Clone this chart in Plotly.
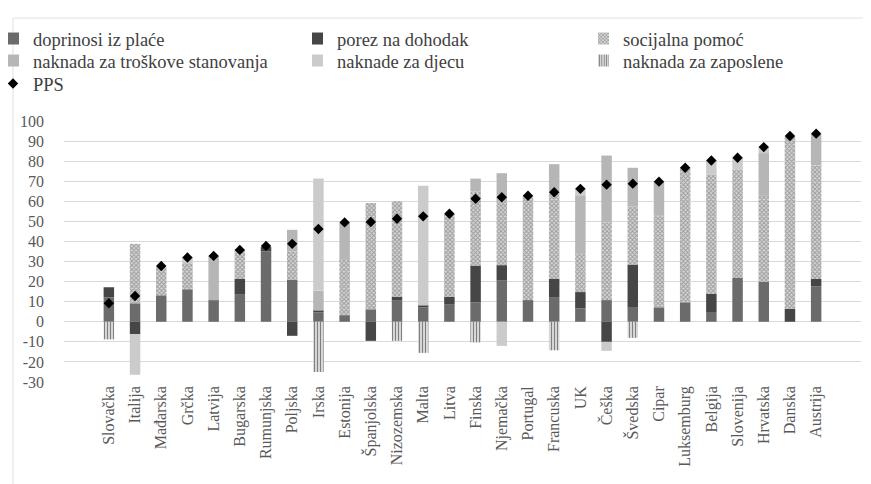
import plotly.graph_objects as go

countries = ["Slovačka", "Italija", "Mađarska", "Grčka", "Latvija", "Bugarska", "Rumunjska",
             "Poljska", "Irska", "Estonija", "Španjolska", "Nizozemska", "Malta", "Litva",
             "Finska", "Njemačka", "Portugal", "Francuska", "UK", "Češka", "Švedska", "Cipar",
             "Luksemburg", "Belgija", "Slovenija", "Hrvatska", "Danska", "Austrija"]

doprinosi = [12.2, 9.2, 13.2, 16.2, 10.8, 13.8, 35.0, 21.0, 4.7, 3.3, 6.2, 10.5, 7.2, 8.8,
             9.7, 20.5, 10.8, 12.3, 6.7, 10.8, 7.0, 7.2, 9.7, 4.5, 21.8, 19.8, 0.0, 17.7]
porez = [5.0, -6.2, 0, 0, 0, 7.7, 2.2, -7.0, 1.0, 0, -9.5, 2.0, 1.0, 3.7,
         18.3, 7.7, 0, 9.2, 8.1, -10.0, 21.5, 0, 0, 9.5, 0, 0, 6.5, 3.6]
socijalna = [0, 29.6, 14.3, 13.0, 0, 13.8, 0, 14.0, 0, 27.5, 53.0, 47.5, 0, 41.2,
             37.0, 31.8, 51.7, 43.5, 19.4, 38.7, 29.0, 45.8, 66.8, 59.3, 54.0, 42.9, 85.7, 56.7]
stanovanje = [0, 0, 0, 0, 22.0, 0, 0, 10.8, 9.7, 18.4, 0, 0, 0, 0,
              6.3, 14.0, 0, 13.5, 28.8, 33.3, 19.2, 16.7, 0, 0, 0, 21.3, 0, 15.3]
djeca = [0, -20.2, 0, 3.0, 0, 0.5, 0, 0, 55.9, 0, 0, 0, 59.6, 0,
         0, -12.0, 0, 0, 3.3, -4.5, 0, 0, 0, 7.2, 5.9, 3.0, 0, 0]
zaposleni = [-8.8, 0, 0, 0, 0, 0, 0, 0, -25.0, 0, 0, -9.5, -15.5, 0,
             -10.3, 0, 0, -14.2, 0, 0, -8.0, 0, 0, 0, 0, 0, 0, 0]
pps = [9.2, 12.8, 27.8, 32.0, 32.8, 35.8, 37.8, 38.8, 46.2, 49.5, 49.7, 51.3, 52.5, 53.8,
       61.3, 62.0, 62.8, 64.5, 66.2, 68.3, 68.8, 69.8, 76.7, 80.3, 81.7, 87.0, 92.5, 93.7]

y_ticks = [100, 90, 80, 70, 60, 50, 40, 30, 20, 10, 0, -10, -20, -30]

FONT = "Liberation Serif, Times New Roman, serif"
TXT = "#404040"

W, H = 871, 484
L, R, T, B = 56, 18, 113, 110

fig = go.Figure()

def bar(name, vals, color, legend, pattern=None):
    marker = dict(color=color, line=dict(width=0))
    if pattern:
        marker["pattern"] = pattern
    fig.add_trace(go.Bar(name=name, x=countries, y=vals, marker=marker, legend=legend))

bar("doprinosi iz plaće", doprinosi, "#6b6b6b", "legend")
bar("porez na dohodak", porez, "#464646", "legend2")
bar("socijalna pomoć", socijalna, "#cccccc", "legend3",
    dict(shape="x", fgcolor="#5e5e5e", bgcolor="#d6d6d6", size=3, solidity=0.5))
bar("naknada za troškove stanovanja", stanovanje, "#b6b6b6", "legend4")
bar("naknade za djecu", djeca, "#cbcbcb", "legend5")
bar("naknada za zaposlene", zaposleni, "#ffffff", "legend6",
    dict(shape="|", fgcolor="#000000", bgcolor="#ffffff", size=3, solidity=0.55))

fig.add_trace(go.Scatter(name="PPS", x=countries, y=pps, mode="markers",
                         marker=dict(symbol="diamond", color="black", size=8),
                         legend="legend7"))

# legend slots: (text start x, row centre y) in pixels
slots = [(33, 40), (338, 40), (624, 40), (33, 62), (338, 62), (624, 62), (33, 85)]

def leg(xpx, ypx):
    return dict(xref="container", yref="container", x=max(xpx - 34, 0) / W,
                y=1 - (ypx - 9) / H,
                xanchor="left", yanchor="middle", orientation="v", bgcolor="rgba(0,0,0,0)",
                font=dict(family=FONT, size=18.5, color=TXT), tracegroupgap=0,
                itemwidth=30, borderwidth=0, indentation=-15)

legends = {}
for i, (sx, sy) in enumerate(slots):
    key = "legend" if i == 0 else f"legend{i + 1}"
    legends[key] = leg(sx, sy)

fig.update_layout(
    width=W, height=H,
    margin=dict(l=L, r=R, t=T, b=B, autoexpand=False),
    paper_bgcolor="white", plot_bgcolor="white",
    barmode="relative", bargap=0.6,
    showlegend=True,
    font=dict(family=FONT, color="#595959"),
    xaxis=dict(tickangle=-90, tickfont=dict(family=FONT, size=16, color="#595959"),
               showgrid=False, showline=False, ticks="", ticklabelstandoff=0,
               automargin=False),
    yaxis=dict(range=[-30, 100], tickvals=y_ticks, ticktext=[str(v) for v in y_ticks],
               tickfont=dict(family=FONT, size=16, color="#595959"),
               gridcolor="#d9d9d9", gridwidth=1, zeroline=False, showline=False,
               ticks="", ticklabelstandoff=19, automargin=False),
    shapes=[
        dict(type="line", xref="paper", yref="paper",
             x0=(5 - L) / (W - L - R), x1=(W + 20 - L) / (W - L - R),
             y0=(H - B - 10) / (H - T - B), y1=(H - B - 10) / (H - T - B),
             line=dict(color="#e0e0e0", width=1), layer="below"),
        dict(type="line", xref="paper", yref="paper",
             x0=(5 - L) / (W - L - R), x1=(5 - L) / (W - L - R),
             y0=(H - B - 10) / (H - T - B), y1=(H - B - (H + 20)) / (H - T - B),
             line=dict(color="#e0e0e0", width=1), layer="below"),
    ],
    **legends,
)

fig.write_html("out.html")
